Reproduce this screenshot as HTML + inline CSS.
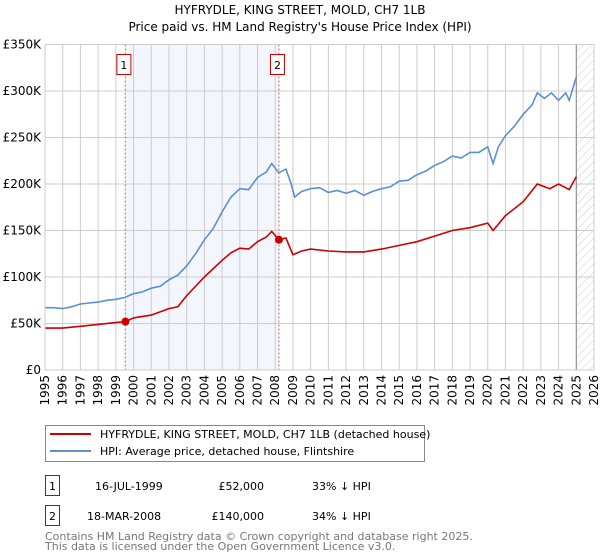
<!DOCTYPE html>
<html><head><meta charset="utf-8"><style>
body{margin:0;background:#fff;font-family:"DejaVu Sans","Liberation Sans",sans-serif;}
svg{display:block}
</style></head><body>
<svg id="c" width="600" height="560" font-family="DejaVu Sans, Liberation Sans, sans-serif">
<defs><pattern id="hatch" width="6" height="6" patternUnits="userSpaceOnUse" patternTransform="rotate(45)"><line x1="0" y1="0" x2="0" y2="6" stroke="#ccc" stroke-width="1"/></pattern></defs>
<text x="300" y="14" text-anchor="middle" font-size="12">HYFRYDLE, KING STREET, MOLD, CH7 1LB</text>
<text x="300" y="31" text-anchor="middle" font-size="12">Price paid vs. HM Land Registry's House Price Index (HPI)</text>
<g id="plot"></g>
<g id="legend">
<rect x="45.5" y="425.5" width="379" height="36" fill="#fff" stroke="#888"/>
<line x1="50" y1="434" x2="91" y2="434" stroke="#cc0000" stroke-width="2"/>
<text x="100" y="438" font-size="11">HYFRYDLE, KING STREET, MOLD, CH7 1LB (detached house)</text>
<line x1="50" y1="451" x2="91" y2="451" stroke="#5b8fd0" stroke-width="2"/>
<text x="100" y="455" font-size="11">HPI: Average price, detached house, Flintshire</text>
</g>
<g>
<rect x="45.5" y="475.5" width="14" height="20" fill="#fff" stroke="#cc0000"/>
<text x="52.5" y="490" text-anchor="middle" font-size="11">1</text>
<text x="95" y="490" font-size="11">16-JUL-1999</text>
<text x="264" y="490" text-anchor="end" font-size="11">£52,000</text>
<text x="312" y="490" font-size="11">33% ↓ HPI</text>
</g>
<g>
<rect x="45.5" y="505.5" width="14" height="20" fill="#fff" stroke="#cc0000"/>
<text x="52.5" y="520" text-anchor="middle" font-size="11">2</text>
<text x="87" y="520" font-size="11">18-MAR-2008</text>
<text x="264" y="520" text-anchor="end" font-size="11">£140,000</text>
<text x="312" y="520" font-size="11">34% ↓ HPI</text>
</g>
<text x="45" y="540" font-size="11" fill="#777">Contains HM Land Registry data © Crown copyright and database right 2025.</text>
<text x="45" y="550" font-size="11" fill="#777">This data is licensed under the Open Government Licence v3.0.</text>
</svg>
<script>
const hpiYears=[1995,1995.5,1996,1996.5,1997,1997.5,1998,1998.5,1999,1999.5,2000,2000.5,2001,2001.5,2002,2002.5,2003,2003.5,2004,2004.5,2005,2005.5,2006,2006.5,2007,2007.5,2007.8,2008.2,2008.6,2008.9,2009.1,2009.5,2010,2010.5,2011,2011.5,2012,2012.5,2013,2013.5,2014,2014.5,2015,2015.5,2016,2016.5,2017,2017.5,2018,2018.5,2019,2019.5,2020,2020.3,2020.6,2021,2021.5,2022,2022.5,2022.8,2023.2,2023.6,2024,2024.4,2024.6,2025];
const hpiValues=[67,67,66,68,71,72,73,75,76,78,82,84,88,90,97,102,112,125,140,152,170,186,195,194,207,213,222,212,216,200,186,192,195,196,191,193,190,193,188,192,195,197,203,204,210,214,220,224,230,228,234,234,240,222,240,252,262,275,285,298,292,298,290,298,290,315];
const priceYears=[1995,1996,1997,1998,1999,1999.54,2000,2001,2002,2002.5,2003,2004,2005,2005.5,2006,2006.5,2007,2007.5,2007.8,2008.21,2008.6,2009,2009.5,2010,2011,2012,2013,2014,2015,2016,2017,2018,2019,2020,2020.3,2021,2022,2022.8,2023.5,2024,2024.6,2025];
const priceValues=[45,45,47,49,51,52,56,59,66,68,80,100,118,126,131,130,138,143,149,140,142,124,128,130,128,127,127,130,134,138,144,150,153,158,150,166,181,200,195,200,194,208];
const saleYears=[1999.54,2008.21];
const saleValues=[52,140];
const saleLabels=["1","2"];
const yTicks=[0,50,100,150,200,250,300,350];
const yTickLabels=["£0","£50K","£100K","£150K","£200K","£250K","£300K","£350K"];
const xTicks=[1995,1996,1997,1998,1999,2000,2001,2002,2003,2004,2005,2006,2007,2008,2009,2010,2011,2012,2013,2014,2015,2016,2017,2018,2019,2020,2021,2022,2023,2024,2025,2026];

const NS="http://www.w3.org/2000/svg";
const L=45,R=594,T=44.5,B=370;
const xs=y=>L+(y-1995)/(2026-1995)*(R-L);
const ys=v=>B-v/350*(B-T);
const g=document.getElementById('plot');
function mk(tag,attrs,parent){const e=document.createElementNS(NS,tag);for(const k in attrs)e.setAttribute(k,attrs[k]);(parent||g).appendChild(e);return e;}
let e;
e=mk('rect',{x:xs(saleYears[0]),y:T,width:xs(saleYears[1])-xs(saleYears[0]),height:B-T,fill:'#eef2fb',opacity:0.7});


e=mk('rect',{x:xs(2025),y:T,width:R-xs(2025),height:B-T,fill:'url(#hatch)'});


yTicks.forEach((t,i)=>{
 e=mk('line',{x1:L,x2:R,y1:ys(t),y2:ys(t),stroke:'#ccc'});
 
 
 e=mk('text',{x:L-4,y:ys(t)+4,'text-anchor':'end','font-size':12});
 e.textContent=yTickLabels[i];
 
 
});
xTicks.forEach(t=>{
 e=mk('line',{x1:xs(t),x2:xs(t),y1:T,y2:B,stroke:'#ccc'});
 
 
 e=mk('text',{x:0,y:0,'font-size':12,'text-anchor':'end',transform:`translate(${xs(t)+4},${B+5}) rotate(-90)`});
 e.textContent=t;
 
 
});
e=mk('line',{x1:xs(2025),x2:xs(2025),y1:T,y2:B,stroke:'#888'});


function line(xa,va,color,name){
 const d=xa.map((x,i)=>(i?'L':'M')+xs(x).toFixed(1)+','+ys(va[i]).toFixed(1)).join('');
 const p=mk('path',{d,fill:'none',stroke:color,'stroke-width':1.6});
 
 
}
line(hpiYears,hpiValues,'#5b8fd0','hpi-line');
line(priceYears,priceValues,'#cc0000','price-paid-line');
saleYears.forEach((s,i)=>{
 e=mk('line',{x1:xs(s),x2:xs(s),y1:T,y2:B,stroke:'#e06060','stroke-dasharray':'2,2'});
 
 
 e=mk('circle',{cx:xs(s),cy:ys(saleValues[i]),r:4,fill:'#cc0000'});
 
 
 e=mk('rect',{x:xs(s)-8.5,y:54.5,width:14,height:20,fill:'#fff',stroke:'#cc0000'});
 
 
 e=mk('text',{x:xs(s)-1.5,y:69,'text-anchor':'middle','font-size':11});
 e.textContent=saleLabels[i];
 
 
});
e=mk('rect',{x:L,y:T,width:R-L,height:B-T,fill:'none',stroke:'#ccc'});


</script>
</body></html>
